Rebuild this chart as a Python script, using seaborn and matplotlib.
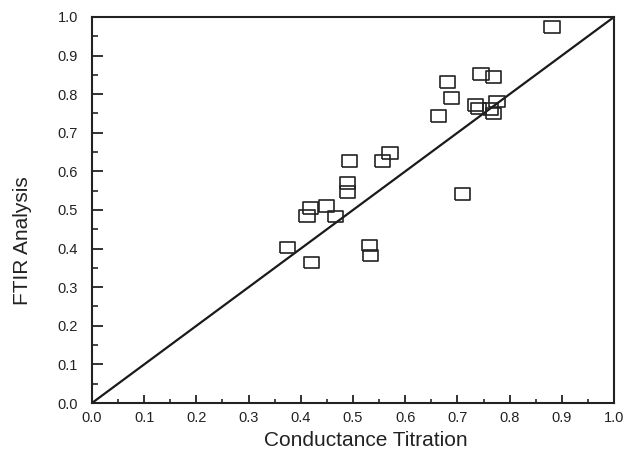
import matplotlib
matplotlib.use("Agg")
import matplotlib.pyplot as plt
import seaborn as sns
import pandas as pd
import numpy as np
from matplotlib.ticker import MultipleLocator, FormatStrFormatter

conductance = [0.881, 0.681, 0.745, 0.769, 0.688, 0.664, 0.734, 0.740, 0.776, 0.764,
               0.769, 0.494, 0.556, 0.571, 0.489, 0.489, 0.710, 0.418, 0.412, 0.449,
               0.466, 0.374, 0.420, 0.531, 0.534]
ftir = [0.975, 0.832, 0.852, 0.845, 0.789, 0.744, 0.772, 0.763, 0.781, 0.761,
        0.750, 0.627, 0.627, 0.647, 0.569, 0.547, 0.542, 0.506, 0.485, 0.511,
        0.483, 0.403, 0.364, 0.408, 0.382]
diag = [0.0, 1.0]

sns.set_style("ticks")
plt.rcParams['font.family'] = ['Liberation Sans', 'DejaVu Sans']

df = pd.DataFrame({"Conductance Titration": conductance, "FTIR Analysis": ftir})

fig = plt.figure(figsize=(6.24, 4.59), dpi=100)
ax = fig.add_axes([0.1474, 0.122, 0.8366, 0.841])

rect = [(-1, -0.78), (1, -0.78), (1, 0.78), (-1, 0.78), (-1, -0.78)]
sns.lineplot(x=diag, y=diag, ax=ax, color="#1a1a1a", linewidth=1.6)
sns.scatterplot(data=df, x="Conductance Titration", y="FTIR Analysis", ax=ax,
                marker=rect, s=120, facecolor="none", edgecolor="#222222",
                linewidth=1.2, zorder=3)

ax.set_xlim(0, 1)
ax.set_ylim(0, 1)
ax.xaxis.set_major_locator(MultipleLocator(0.1))
ax.xaxis.set_minor_locator(MultipleLocator(0.05))
ax.yaxis.set_major_locator(MultipleLocator(0.1))
ax.yaxis.set_minor_locator(MultipleLocator(0.05))
ax.xaxis.set_major_formatter(FormatStrFormatter("%.1f"))
ax.yaxis.set_major_formatter(FormatStrFormatter("%.1f"))

ax.tick_params(axis="x", which="major", direction="in", length=6, width=1.3,
               labelsize=10.5, pad=6, colors="#222222")
ax.tick_params(axis="x", which="minor", direction="in", length=3, width=1.2)
ax.tick_params(axis="y", which="major", direction="in", length=8, width=1.3,
               labelsize=10.5, pad=10, colors="#222222")
ax.tick_params(axis="y", which="minor", direction="in", length=4, width=1.2)
ax.tick_params(top=False, right=False)

for sp in ax.spines.values():
    sp.set_visible(True)
    sp.set_linewidth(1.5)
    sp.set_color("#222222")

ax.set_xlabel("Conductance Titration", fontsize=15, color="#222222")
ax.xaxis.set_label_coords(0.525, -0.097)
ax.xaxis.label.set_va("center")
ax.set_ylabel("FTIR Analysis", fontsize=15, color="#222222")
ax.yaxis.set_label_coords(-0.115, 0.42)

fig.savefig("out.png", dpi=100)
